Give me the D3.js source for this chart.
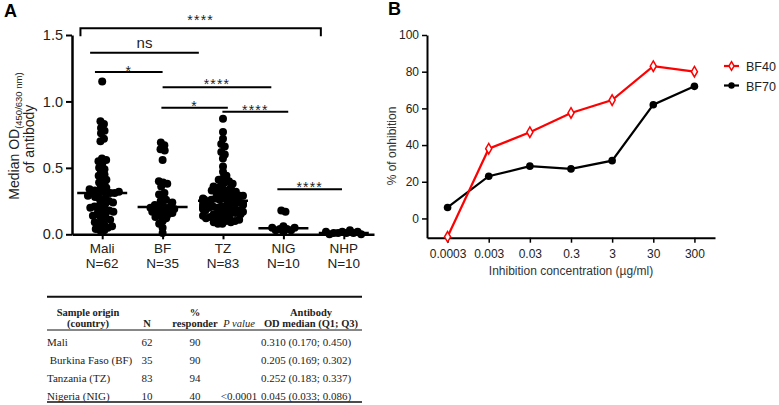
<!DOCTYPE html>
<html lang="en">
  <head>
    <meta charset="UTF-8" />
    <title>Antibody OD and inhibition</title>
    <style>
      body { margin: 0; background: #fff; }
      svg { display: block; font-family: "Liberation Sans", Arial, sans-serif; }
      .axis path, .axis line { stroke: #000; fill: none; }
      .tbl { font-family: "Liberation Serif", "Times New Roman", serif; fill: #222; }
    </style>
  </head>
  <body>
    <div class="chart"></div>
    <script src="https://d3js.org/d3.v7.min.js"></script>
    <script>
      // ---- panel A data ----
      const groups = ["Mali", "BF", "TZ", "NIG", "NHP"];
      const groupN = ["N=62", "N=35", "N=83", "N=10", "N=10"];
      const medians = [0.31, 0.205, 0.252, 0.045, 0.01];

      const maliOD = [1.15, 0.85, 0.83, 0.8, 0.78, 0.76, 0.72, 0.7, 0.57, 0.56, 0.55, 0.53,
        0.5, 0.49, 0.47, 0.45, 0.44, 0.42, 0.41, 0.39, 0.38, 0.36, 0.35, 0.34, 0.33, 0.32,
        0.32, 0.31, 0.31, 0.31, 0.31, 0.3, 0.29, 0.28, 0.27, 0.26, 0.25, 0.24, 0.23, 0.22,
        0.21, 0.2, 0.2, 0.19, 0.18, 0.17, 0.17, 0.16, 0.15, 0.14, 0.13, 0.12, 0.11, 0.1,
        0.09, 0.08, 0.07, 0.06, 0.05, 0.04, 0.03, 0.03];
      const bfOD = [0.69, 0.67, 0.64, 0.63, 0.56, 0.4, 0.39, 0.38, 0.36, 0.31, 0.3, 0.28,
        0.26, 0.25, 0.24, 0.22, 0.21, 0.21, 0.2, 0.2, 0.19, 0.19, 0.18, 0.17, 0.17, 0.16,
        0.15, 0.15, 0.14, 0.13, 0.12, 0.1, 0.08, 0.05, 0.01];
      const tzOD = [0.87, 0.77, 0.72, 0.68, 0.66, 0.62, 0.6, 0.57, 0.51, 0.47, 0.44, 0.42,
        0.41, 0.4, 0.39, 0.38, 0.37, 0.36, 0.35, 0.35, 0.34, 0.33, 0.33, 0.32, 0.32, 0.31,
        0.3, 0.3, 0.29, 0.29, 0.28, 0.28, 0.27, 0.27, 0.27, 0.26, 0.26, 0.26, 0.26, 0.25,
        0.25, 0.25, 0.24, 0.24, 0.23, 0.23, 0.23, 0.22, 0.22, 0.22, 0.21, 0.21, 0.21, 0.2,
        0.2, 0.2, 0.19, 0.19, 0.19, 0.18, 0.18, 0.18, 0.17, 0.17, 0.16, 0.16, 0.15, 0.15,
        0.15, 0.14, 0.14, 0.13, 0.13, 0.12, 0.12, 0.11, 0.11, 0.1, 0.1, 0.09, 0.09, 0.08, 0.08];
      const nigOD = [0.18, 0.17, 0.06, 0.05, 0.05, 0.04, 0.04, 0.03, 0.03, 0.02];
      const nhpOD = [0.03, 0.02, 0.02, 0.02, 0.01, 0.01, 0.01, 0.01, 0.0, 0.0];
      const groupValues = [maliOD, bfOD, tzOD, nigOD, nhpOD];

      // comparisons: [from index, to index, OD level, label]
      const comparisons = [
        [-0.36, 3.62, 1.55, "****"],
        [-0.2, 1.6, 1.366, "ns"],
        [-0.12, 1.0, 1.221, "*"],
        [1.0, 2.8, 1.106, "****"],
        [0.98, 2.08, 0.953, "*"],
        [1.99, 3.08, 0.922, "****"],
        [2.9, 3.97, 0.339, "****"],
      ];
      // label offset from line (px), layout only
      const compDy = [-3, -4.5, 4, 1.5, 3.5, 3, 2.5];

      // ---- table data ----
      const tableHead1 = ["Sample origin", "", "%", "", "Antibody"];
      const tableHead2 = ["(country)", "N", "responder", "P value", "OD median (Q1; Q3)"];
      const tableRows = [
        ["Mali", "62", "90", "", "0.310 (0.170; 0.450)"],
        [" Burkina Faso (BF)", "35", "90", "", "0.205 (0.169; 0.302)"],
        ["Tanzania (TZ)", "83", "94", "", "0.252 (0.183; 0.337)"],
        ["Nigeria (NIG)", "10", "40", "<0.0001", "0.045 (0.033; 0.086)"],
      ];

      // ---- panel B data ----
      const concLabels = ["0.0003", "0.003", "0.03", "0.3", "3", "30", "300"];
      const bf40 = [-10, 38, 47, 57.5, 64.5, 83, 80];
      const bf70 = [6, 23, 28.5, 27, 31.5, 62, 72];

      const W = 779, H = 405;
      const svg = d3.select(".chart").append("svg").attr("width", W).attr("height", H);

      // ================= Panel A =================
      svg.append("text").attr("x", 4).attr("y", 17).attr("font-size", 18)
        .attr("font-weight", "bold").text("A");

      const x = d3.scalePoint().domain(groups).range([72, 374]).padding(0.5);
      const y = d3.scaleLinear().domain([0, 1.5]).range([234.3, 35]);
      const xi = d3.scaleLinear().domain([0, 4]).range([x("Mali"), x("NHP")]);

      const yAxA = svg.append("g").attr("class", "axis")
        .attr("transform", "translate(72,0)")
        .call(d3.axisLeft(y).tickValues([0, 0.5, 1, 1.5]).tickFormat(d3.format(".1f"))
          .tickSize(6).tickSizeOuter(0));
      yAxA.select(".domain").attr("stroke-width", 2.5);
      yAxA.selectAll(".tick line").attr("stroke-width", 2);
      yAxA.selectAll("text").attr("font-size", 14.5).attr("fill", "#222")
        .attr("font-family", "Liberation Sans, Arial, sans-serif");

      const xAxA = svg.append("g").attr("class", "axis")
        .attr("transform", "translate(0,234.3)")
        .call(d3.axisBottom(x).tickSize(5).tickSizeOuter(0).tickFormat(""));
      xAxA.select(".domain").attr("stroke-width", 2.5);
      xAxA.selectAll(".tick line").attr("stroke-width", 2);

      const catLbl = svg.append("g").attr("font-size", 13.5).attr("fill", "#222")
        .attr("text-anchor", "middle");
      groups.forEach((g, i) => {
        catLbl.append("text").attr("x", x(g)).attr("y", 253).text(g);
        catLbl.append("text").attr("x", x(g)).attr("y", 268).text(groupN[i]);
      });

      // y title
      const yt = svg.append("g").attr("transform", "translate(19,136) rotate(-90)")
        .attr("text-anchor", "middle").attr("fill", "#222");
      const t1 = yt.append("text").attr("font-size", 14);
      t1.append("tspan").text("Median OD");
      t1.append("tspan").attr("font-size", 9.5).attr("dy", 3).text("(450/630 nm)");
      yt.append("text").attr("font-size", 14).attr("y", 15).attr("x", -3).text("of antibody");

      // beeswarm points
      const r = 4;
      groupValues.forEach((vals, gi) => {
        const cx = x(groups[gi]);
        const nodes = vals.map((v) => ({ v, x: cx, y: y(v), fy: y(v) }));
        const sim = d3.forceSimulation(nodes)
          .force("x", d3.forceX(cx).strength(0.1))
          .force("c", d3.forceCollide(r * 0.55).iterations(2))
          .stop();
        for (let i = 0; i < 300; i++) sim.tick();
        nodes.forEach((n) => { n.x = Math.max(cx - 20, Math.min(cx + 20, n.x)); });
        svg.append("g").selectAll("circle").data(nodes).enter().append("circle")
          .attr("cx", (d) => d.x).attr("cy", (d) => y(d.v)).attr("r", r).attr("fill", "#000");
      });

      // median lines
      svg.append("g").selectAll("line").data(medians).enter().append("line")
        .attr("x1", (d, i) => x(groups[i]) - 25).attr("x2", (d, i) => x(groups[i]) + 25)
        .attr("y1", (d) => y(d)).attr("y2", (d) => y(d))
        .attr("stroke", "#000").attr("stroke-width", 2.5);

      // significance bars
      const comp = svg.append("g");
      comparisons.forEach((c, i) => {
        const x1 = xi(c[0]), x2 = xi(c[1]), yy = y(c[2]);
        if (i === 0) {
          comp.append("path")
            .attr("d", `M${x1},${yy + 8}V${yy}H${x2}V${yy + 8}`)
            .attr("fill", "none").attr("stroke", "#000").attr("stroke-width", 2);
        } else {
          comp.append("line").attr("x1", x1).attr("x2", x2).attr("y1", yy).attr("y2", yy)
            .attr("stroke", "#000").attr("stroke-width", 2);
        }
        const isNs = c[3] === "ns";
        comp.append("text").attr("x", (x1 + x2) / 2).attr("y", yy + compDy[i])
          .attr("text-anchor", "middle").attr("font-size", isNs ? 15 : 14)
          .attr("letter-spacing", isNs ? 0 : 1.2).attr("fill", "#222").text(c[3]);
      });

      // ================= Table =================
      const tbl = svg.append("g").attr("class", "tbl");
      const colX = [47, 147, 195, 239, 306];
      const headX = [88, 147, 195, 239, 311];
      tbl.append("line").attr("x1", 47).attr("x2", 362).attr("y1", 296.7).attr("y2", 296.7)
        .attr("stroke", "#111").attr("stroke-width", 2);
      tbl.append("line").attr("x1", 47).attr("x2", 362).attr("y1", 330).attr("y2", 330)
        .attr("stroke", "#111").attr("stroke-width", 1);
      tbl.append("line").attr("x1", 47).attr("x2", 362).attr("y1", 402).attr("y2", 402)
        .attr("stroke", "#111").attr("stroke-width", 1.5);
      tableHead1.forEach((t, i) => {
        tbl.append("text").attr("x", headX[i]).attr("y", 316).attr("text-anchor", "middle")
          .attr("font-size", 10.5).attr("font-weight", "bold").text(t);
      });
      tableHead2.forEach((t, i) => {
        tbl.append("text").attr("x", headX[i]).attr("y", 327).attr("text-anchor", "middle")
          .attr("font-size", 10.5).attr("font-weight", i === 3 ? "normal" : "bold")
          .attr("font-style", i === 3 ? "italic" : "normal").text(t);
      });
      const rowY = [346, 364, 382, 400];
      tableRows.forEach((row, ri) => {
        row.forEach((t, ci) => {
          tbl.append("text").attr("x", colX[ci]).attr("y", rowY[ri])
            .attr("text-anchor", ci === 0 ? "start" : "middle")
            .attr("font-size", 11).attr("xml:space", "preserve").text(t);
        });
      });

      // ================= Panel B =================
      svg.append("text").attr("x", 388).attr("y", 15).attr("font-size", 18)
        .attr("font-weight", "bold").text("B");

      const xB = d3.scalePoint().domain(concLabels).range([427, 715]).padding(0.5);
      const yB = d3.scaleLinear().domain([-10.5, 100]).range([237.7, 35]);

      const yAxB = svg.append("g").attr("class", "axis").attr("transform", "translate(427,0)")
        .call(d3.axisLeft(yB).tickValues([0, 20, 40, 60, 80, 100]).tickSize(5).tickSizeOuter(0));
      yAxB.select(".domain").attr("stroke-width", 2);
      yAxB.selectAll(".tick line").attr("stroke-width", 1.5);
      yAxB.selectAll("text").attr("font-size", 12).attr("fill", "#222")
        .attr("font-family", "Liberation Sans, Arial, sans-serif");

      const xAxB = svg.append("g").attr("class", "axis").attr("transform", "translate(0,237.7)")
        .call(d3.axisBottom(xB).tickSize(5).tickSizeOuter(0));
      xAxB.select(".domain").attr("stroke-width", 2);
      xAxB.selectAll(".tick line").attr("stroke-width", 1.5);
      xAxB.selectAll("text").attr("font-size", 12).attr("fill", "#222").attr("dy", "1em")
        .attr("font-family", "Liberation Sans, Arial, sans-serif");

      svg.append("text").attr("x", 571).attr("y", 275).attr("text-anchor", "middle")
        .attr("font-size", 12).attr("fill", "#333").text("Inhibition concentration (\u00b5g/ml)");
      svg.append("text").attr("transform", "translate(396,146) rotate(-90)")
        .attr("text-anchor", "middle").attr("font-size", 12).attr("fill", "#333")
        .text("% of onhibition");

      const lineB = (vals) => d3.line().x((d, i) => xB(concLabels[i])).y((d) => yB(d))(vals);

      svg.append("path").attr("d", lineB(bf70)).attr("fill", "none")
        .attr("stroke", "#000").attr("stroke-width", 2.2);
      svg.append("g").selectAll("circle").data(bf70).enter().append("circle")
        .attr("cx", (d, i) => xB(concLabels[i])).attr("cy", (d) => yB(d)).attr("r", 3.8)
        .attr("fill", "#000");

      svg.append("path").attr("d", lineB(bf40)).attr("fill", "none")
        .attr("stroke", "#ff0000").attr("stroke-width", 2.2);
      const diamond = d3.symbol(d3.symbolDiamond, 32);
      svg.append("g").selectAll("path").data(bf40).enter().append("path")
        .attr("d", diamond)
        .attr("transform", (d, i) => `translate(${xB(concLabels[i])},${yB(d)})`)
        .attr("fill", "#fff").attr("stroke", "#ff0000").attr("stroke-width", 1.5);

      // legend
      const leg = svg.append("g");
      [["BF40", "#ff0000", "diamond"], ["BF70", "#000", "circle"]].forEach((s, i) => {
        const ly = 66 + i * 19.5;
        leg.append("line").attr("x1", 724).attr("x2", 739).attr("y1", ly).attr("y2", ly)
          .attr("stroke", s[1]).attr("stroke-width", 2.2);
        if (s[2] === "diamond") {
          leg.append("path").attr("d", d3.symbol(d3.symbolDiamond, 22))
            .attr("transform", `translate(731.5,${ly})`).attr("fill", "#fff")
            .attr("stroke", s[1]).attr("stroke-width", 1.5);
        } else {
          leg.append("circle").attr("cx", 731.5).attr("cy", ly).attr("r", 3.2).attr("fill", s[1]);
        }
        leg.append("text").attr("x", 746).attr("y", ly + 5).attr("font-size", 12.5)
          .attr("fill", "#222").text(s[0]);
      });
    </script>
  </body>
</html>
